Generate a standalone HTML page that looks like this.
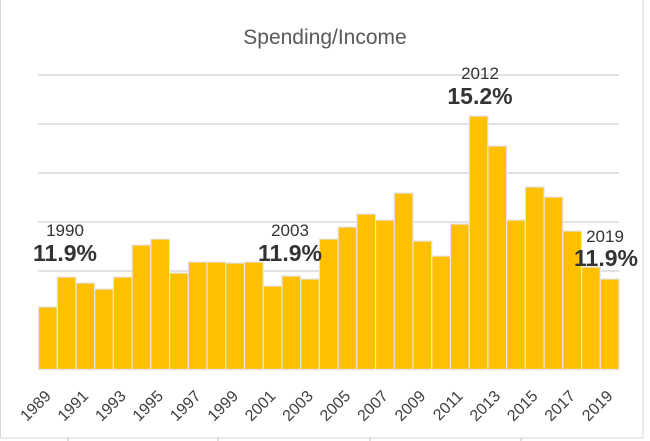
<!DOCTYPE html>
<html><head><style>
body{margin:0;background:#fff;}
svg{display:block;font-family:"Liberation Sans",sans-serif;}
</style></head><body>
<svg width="650" height="441" viewBox="0 0 650 441">
<rect x="0" y="0" width="650" height="441" fill="#fff"/>
<line x1="0.5" y1="0" x2="0.5" y2="438" stroke="#d9d9d9"/>
<line x1="0" y1="438" x2="643" y2="438" stroke="#d9d9d9"/>
<line x1="643" y1="0" x2="643" y2="438" stroke="#d9d9d9"/>
<g stroke="#bfbfbf"><line x1="68" y1="438" x2="68" y2="441"/><line x1="218" y1="438" x2="218" y2="441"/><line x1="370" y1="438" x2="370" y2="441"/><line x1="521" y1="438" x2="521" y2="441"/></g>
<text x="325" y="44" text-anchor="middle" font-size="21" fill="#595959">Spending/Income</text>
<g stroke="#d9d9d9" stroke-width="1.5">
<line x1="38" y1="75" x2="619" y2="75"/><line x1="38" y1="124" x2="619" y2="124"/><line x1="38" y1="173" x2="619" y2="173"/><line x1="38" y1="222" x2="619" y2="222"/><line x1="38" y1="271" x2="619" y2="271"/><line x1="38" y1="320" x2="619" y2="320"/><line x1="38" y1="369.5" x2="619" y2="369.5"/>
</g>
<g id="bars" fill="#FFC000" stroke="#e4e4ec" stroke-width="1.2"></g>
<g id="labels" font-size="16" fill="#404040"></g>
<g fill="#333">
<text x="65" y="236" text-anchor="middle" font-size="17">1990</text>
<text x="65" y="261" text-anchor="middle" font-size="23" font-weight="bold">11.9%</text>
<text x="290" y="236" text-anchor="middle" font-size="17">2003</text>
<text x="290" y="261" text-anchor="middle" font-size="23" font-weight="bold">11.9%</text>
<text x="480" y="79" text-anchor="middle" font-size="17">2012</text>
<text x="480" y="104" text-anchor="middle" font-size="23" font-weight="bold">15.2%</text>
<text x="605" y="242" text-anchor="middle" font-size="17">2019</text>
<text x="606" y="266" text-anchor="middle" font-size="23" font-weight="bold">11.9%</text>
</g>
</svg>
<script>
var tops=[307,277,283,289,277,245,239,273,262,262,263,262,286,276,279,239,227,214,220,193,241,256,224,116,146,220,187,197,231,267,279];
var x0=38.5,step=(619-38.5)/31,ns="http://www.w3.org/2000/svg";
var b=document.getElementById("bars"),l=document.getElementById("labels");
tops.forEach(function(t,i){
 var r=document.createElementNS(ns,"rect");
 r.setAttribute("x",x0+i*step);r.setAttribute("y",t);
 r.setAttribute("width",step);r.setAttribute("height",369.5-t);
 b.appendChild(r);
 if(i%2==0){
  var cx=x0+i*step+step/2+4, cy=397;
  var tx=document.createElementNS(ns,"text");
  tx.setAttribute("x",cx);tx.setAttribute("y",cy);
  tx.setAttribute("text-anchor","end");
  tx.setAttribute("transform","rotate(-45 "+cx+" "+cy+")");
  tx.textContent=1989+i;l.appendChild(tx);
 }
});
</script>
</body></html>
